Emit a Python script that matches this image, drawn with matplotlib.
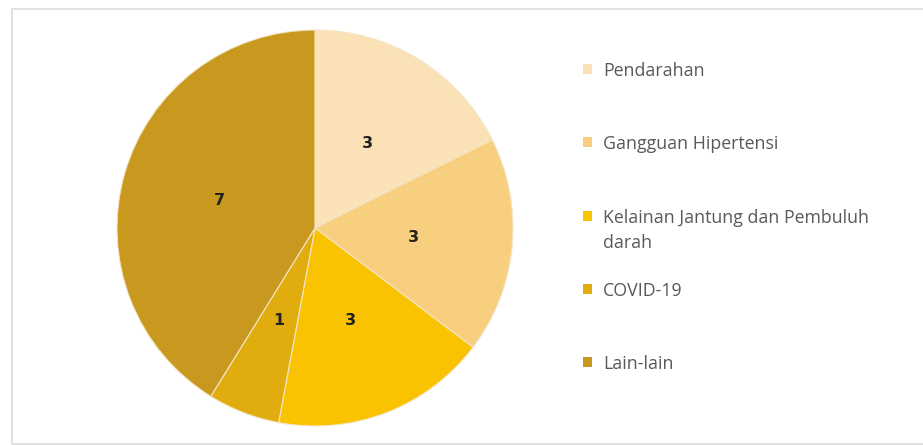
import matplotlib.pyplot as plt
from matplotlib.patches import Rectangle

# ==========================
# DATA
# ==========================
kategori = [
    "Pendarahan",
    "Gangguan Hipertensi",
    "Kelainan Jantung dan Pembuluh\ndarah",
    "COVID-19",
    "Lain-lain",
]
jumlah = [3, 3, 3, 1, 7]
warna = ["#FBE2B6", "#F8CF7E", "#F9C302", "#E1AC0E", "#C9981F"]

# ==========================
# FIGURA
# ==========================
W, H = 923, 445
fig = plt.figure(figsize=(W / 100, H / 100), dpi=100)

# marco gris claro
fig.patches.append(
    Rectangle((12 / W, 0.002), 1.0, (H - 10) / H,
              transform=fig.transFigure, fill=False,
              edgecolor="#dcdcdc", linewidth=1.2)
)

cx, cy, r = 315, 228, 198
ax = fig.add_axes([(cx - r) / W, (H - cy - r) / H, 2 * r / W, 2 * r / H])

wedges, textos = ax.pie(
    jumlah,
    colors=warna,
    startangle=90,
    counterclock=False,
    labels=[str(v) for v in jumlah],
    labeldistance=0.5,
    wedgeprops=dict(edgecolor="#f3e6c8", linewidth=0.8),
    textprops=dict(fontsize=11.5, fontweight="bold", color="#222222",
                   ha="center", va="center", family="DejaVu Sans"),
)
ax.set_xlim(-1, 1)
ax.set_ylim(-1, 1)
ax.set_aspect("equal")
ax.axis("off")

# ==========================
# LEYENDA
# ==========================
y0 = 69
paso = 73.3
for i, (nombre, c) in enumerate(zip(kategori, warna)):
    y = y0 + i * paso
    fig.patches.append(
        Rectangle((583 / W, (H - y - 5) / H), 9 / W, 10 / H,
                  transform=fig.transFigure, facecolor=c, edgecolor="none")
    )
    fig.text(603 / W, (H - y + 7) / H, nombre, ha="left", va="top",
             fontsize=12.8, color="#595959", family="Open Sans",
             linespacing=1.5)

plt.savefig("out.png", dpi=100)
plt.close()
